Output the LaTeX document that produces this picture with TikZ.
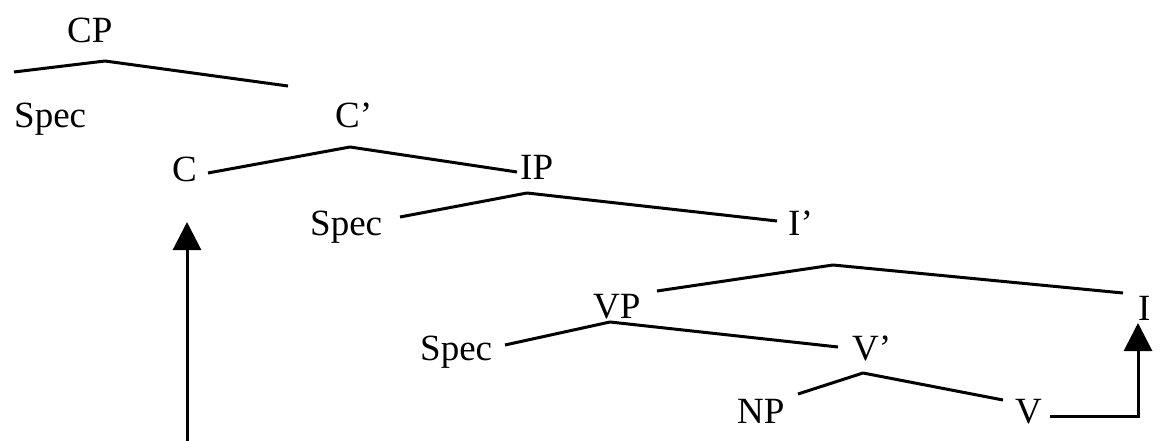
\documentclass[tikz,border=0pt]{standalone}
\usepackage{fontspec}
\setmainfont{Liberation Serif}
\usetikzlibrary{arrows.meta}
\begin{document}
\begin{tikzpicture}[x=1pt,y=-1pt,
  lab/.style={anchor=base west,inner sep=0pt,font=\fontsize{37}{37}\selectfont},
  branch/.style={line width=3pt,line join=round},
  move/.style={line width=3pt,-{Triangle[width=28pt,length=28pt]}}]
\useasboundingbox (0,0) rectangle (1168,441);
% labels
\node[lab] (cp)    at (67,43)   {CP};
\node[lab] (spec1) at (14,128)  {Spec};
\node[lab] (cbar)  at (335,128) {C’};
\node[lab] (c)     at (172,182) {C};
\node[lab] (ip)    at (520,180) {IP};
\node[lab] (spec2) at (310,235) {Spec};
\node[lab] (ibar)  at (788,236) {I’};
\node[lab] (vp)    at (593,318) {VP};
\node[lab] (i)     at (1138,320){I};
\node[lab] (spec3) at (420,360) {Spec};
\node[lab] (vbar)  at (852,360) {V’};
\node[lab] (np)    at (737,423) {NP};
\node[lab] (v)     at (1015,423){V};
% branch end points
\coordinate (cpL) at (14,72);   \coordinate (cpT) at (105,61);  \coordinate (cpR) at (288,86);
\coordinate (cbL) at (208,173); \coordinate (cbT) at (350,147); \coordinate (cbR) at (517,172);
\coordinate (ipL) at (400,217); \coordinate (ipT) at (527,193); \coordinate (ipR) at (777,221);
\coordinate (ibL) at (657,291); \coordinate (ibT) at (833,265); \coordinate (ibR) at (1123,293);
\coordinate (vpL) at (505,345); \coordinate (vpT) at (610,322); \coordinate (vpR) at (838,347);
\coordinate (vbL) at (798,394); \coordinate (vbT) at (863,373); \coordinate (vbR) at (1003,400);
% branches
\draw[branch] (cpL) -- (cpT) -- (cpR);
\draw[branch] (cbL) -- (cbT) -- (cbR);
\draw[branch] (ipL) -- (ipT) -- (ipR);
\draw[branch] (ibL) -- (ibT) -- (ibR);
\draw[branch] (vpL) -- (vpT) -- (vpR);
\draw[branch] (vbL) -- (vbT) -- (vbR);
% movement arrows
\coordinate (cmove) at (187,441);
\coordinate (cTip)  at (187,222);
\draw[move] (cmove) -- (cTip);
\coordinate (vOut)  at (1050,416);
\coordinate (vTurn) at (1138,416);
\coordinate (iTip)  at (1138,323);
\draw[move] (vOut) -- (vTurn) -- (iTip);
\end{tikzpicture}
\end{document}
